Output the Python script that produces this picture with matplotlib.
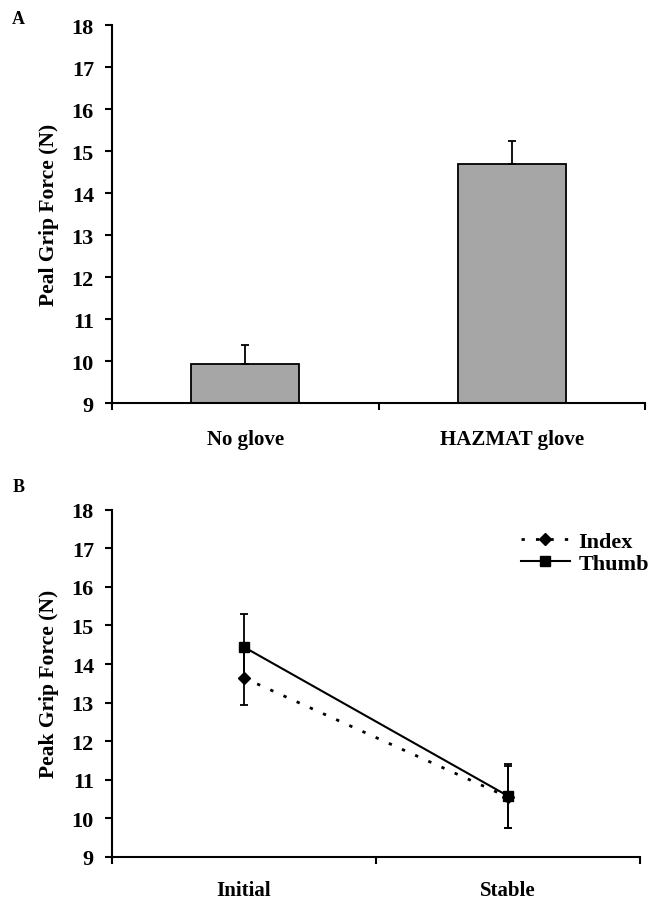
import matplotlib
matplotlib.use("Agg")
import matplotlib.pyplot as plt

plt.rcParams['font.family'] = ['Liberation Serif', 'DejaVu Serif']
plt.rcParams['font.weight'] = 'bold'

# panel A data
glove_conditions = ["No glove", "HAZMAT glove"]
glove_force = [9.93, 14.69]
glove_err = [0.45, 0.55]

# panel B data
phases = ["Initial", "Stable"]
index_force = [13.64, 10.55]
index_err = [0.70, 0.80]
thumb_force = [14.44, 10.58]
thumb_err = [0.86, 0.83]

yticks = list(range(9, 19))

fig = plt.figure(figsize=(6.53, 9.04), dpi=100)
axA = fig.add_axes([0.1715, 0.553, 0.8165, 0.418])
axB = fig.add_axes([0.1715, 0.051, 0.8085, 0.384])


def style_axis(ax, labels, ylabel):
    for side in ("top", "right"):
        ax.spines[side].set_visible(False)
    for side in ("left", "bottom"):
        ax.spines[side].set_linewidth(1.5)
    ax.set_ylim(9, 18)
    ax.set_xlim(-0.5, 1.5)
    ax.set_yticks(yticks)
    ax.set_yticklabels([str(t) for t in yticks], fontsize=16, fontweight='bold')
    ax.set_xticks([-0.5, 0.5, 1.5])
    ax.set_xticklabels([])
    ax.tick_params(axis='both', direction='out', length=5, width=1.5)
    ax.tick_params(axis='y', pad=8)
    for i, lab in enumerate(labels):
        ax.text(i, -0.095, lab, transform=ax.get_xaxis_transform(),
                ha='center', va='center', fontsize=15, fontweight='bold')
    ax.set_ylabel(ylabel, fontsize=15.5, fontweight='bold', labelpad=9)


# A: bars with upper error bars
xa = range(len(glove_conditions))
axA.bar(xa, glove_force, width=0.405, bottom=0, color='#a6a6a6',
        edgecolor='black', linewidth=1.3, zorder=2)
axA.errorbar(xa, glove_force, yerr=[[0, 0], glove_err], fmt='none',
             ecolor='black', elinewidth=1.3, capsize=3, capthick=1.3, zorder=3)
style_axis(axA, glove_conditions, "Peal Grip Force (N)")

# B: lines
xb = range(len(phases))
axB.errorbar(xb, index_force, yerr=index_err, fmt='none', ecolor='black',
             elinewidth=1.3, capsize=3, capthick=1.3)
axB.errorbar(xb, thumb_force, yerr=thumb_err, fmt='none', ecolor='black',
             elinewidth=1.3, capsize=3, capthick=1.3)
axB.plot(xb, index_force, color='black', linestyle=(0, (1.2, 4)), linewidth=2,
         marker='D', markersize=6, label='Index')
axB.plot(xb, thumb_force, color='black', linestyle='-', linewidth=1.5,
         marker='s', markersize=7, label='Thumb')
style_axis(axB, phases, "Peak Grip Force (N)")
axB.legend(loc='upper right', bbox_to_anchor=(1.055, 0.995), frameon=False,
           prop={'size': 16, 'weight': 'bold'}, handlelength=2.2,
           handletextpad=0.4, labelspacing=0.05)

fig.text(0.028, 0.978, "A", fontsize=13, fontweight='bold', ha='center', va='center')
fig.text(0.028, 0.461, "B", fontsize=13, fontweight='bold', ha='center', va='center')

fig.savefig("out.png", dpi=100)
